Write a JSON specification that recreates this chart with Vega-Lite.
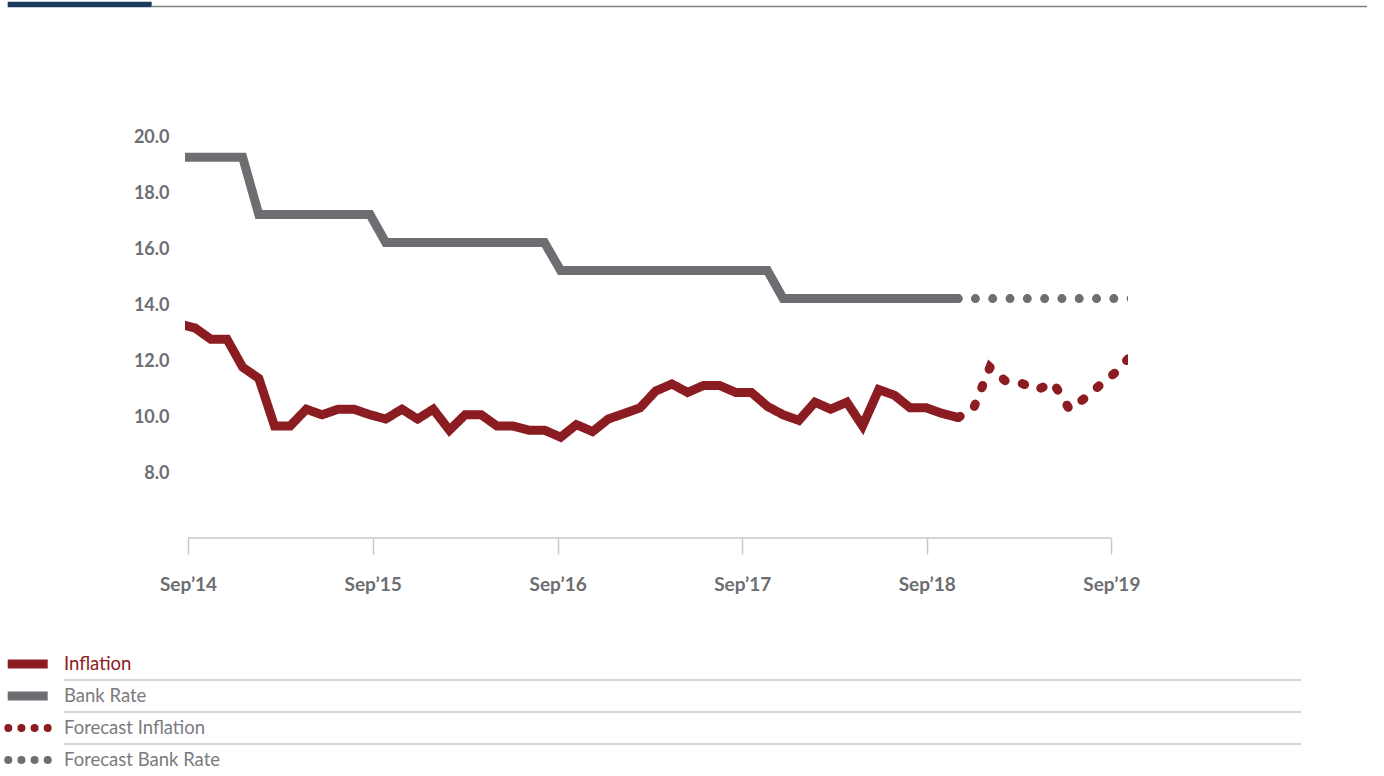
{
  "$schema": "https://vega.github.io/schema/vega-lite/v6.json",
  "padding": {"left": 3, "top": 0, "right": 0, "bottom": 0},
  "background": "white",
  "config": {"view": {"stroke": null}, "font": "Lato"},
  "columns": 1,
  "align": "none",
  "spacing": 20,
  "datasets": {
    "rates": [
      {"date": "2014-08-14", "series": "Inflation", "value": 13.35},
      {"date": "2014-09-15", "series": "Inflation", "value": 13.2},
      {"date": "2014-10-16", "series": "Inflation", "value": 12.8},
      {"date": "2014-11-17", "series": "Inflation", "value": 12.8},
      {"date": "2014-12-18", "series": "Inflation", "value": 11.8},
      {"date": "2015-01-19", "series": "Inflation", "value": 11.4},
      {"date": "2015-02-19", "series": "Inflation", "value": 9.7},
      {"date": "2015-03-22", "series": "Inflation", "value": 9.7},
      {"date": "2015-04-23", "series": "Inflation", "value": 10.3},
      {"date": "2015-05-24", "series": "Inflation", "value": 10.1},
      {"date": "2015-06-25", "series": "Inflation", "value": 10.3},
      {"date": "2015-07-26", "series": "Inflation", "value": 10.3},
      {"date": "2015-08-27", "series": "Inflation", "value": 10.1},
      {"date": "2015-09-27", "series": "Inflation", "value": 9.95},
      {"date": "2015-10-29", "series": "Inflation", "value": 10.3},
      {"date": "2015-11-29", "series": "Inflation", "value": 9.95},
      {"date": "2015-12-30", "series": "Inflation", "value": 10.3},
      {"date": "2016-01-31", "series": "Inflation", "value": 9.55},
      {"date": "2016-03-02", "series": "Inflation", "value": 10.1},
      {"date": "2016-04-03", "series": "Inflation", "value": 10.1},
      {"date": "2016-05-04", "series": "Inflation", "value": 9.7},
      {"date": "2016-06-05", "series": "Inflation", "value": 9.7},
      {"date": "2016-07-06", "series": "Inflation", "value": 9.55},
      {"date": "2016-08-06", "series": "Inflation", "value": 9.55},
      {"date": "2016-09-07", "series": "Inflation", "value": 9.3},
      {"date": "2016-10-08", "series": "Inflation", "value": 9.75},
      {"date": "2016-11-09", "series": "Inflation", "value": 9.5},
      {"date": "2016-12-10", "series": "Inflation", "value": 9.95},
      {"date": "2017-01-11", "series": "Inflation", "value": 10.15},
      {"date": "2017-02-11", "series": "Inflation", "value": 10.35},
      {"date": "2017-03-14", "series": "Inflation", "value": 10.95},
      {"date": "2017-04-15", "series": "Inflation", "value": 11.2},
      {"date": "2017-05-16", "series": "Inflation", "value": 10.9},
      {"date": "2017-06-17", "series": "Inflation", "value": 11.15},
      {"date": "2017-07-18", "series": "Inflation", "value": 11.15},
      {"date": "2017-08-19", "series": "Inflation", "value": 10.9},
      {"date": "2017-09-19", "series": "Inflation", "value": 10.9},
      {"date": "2017-10-21", "series": "Inflation", "value": 10.4},
      {"date": "2017-11-21", "series": "Inflation", "value": 10.1},
      {"date": "2017-12-22", "series": "Inflation", "value": 9.9},
      {"date": "2018-01-23", "series": "Inflation", "value": 10.55},
      {"date": "2018-02-23", "series": "Inflation", "value": 10.3},
      {"date": "2018-03-27", "series": "Inflation", "value": 10.55},
      {"date": "2018-04-27", "series": "Inflation", "value": 9.7},
      {"date": "2018-05-29", "series": "Inflation", "value": 11.0},
      {"date": "2018-06-29", "series": "Inflation", "value": 10.8},
      {"date": "2018-07-30", "series": "Inflation", "value": 10.35},
      {"date": "2018-08-31", "series": "Inflation", "value": 10.35},
      {"date": "2018-10-01", "series": "Inflation", "value": 10.15},
      {"date": "2018-11-02", "series": "Inflation", "value": 10.0},
      {"date": "2018-11-02", "series": "Forecast Inflation", "value": 10.0},
      {"date": "2018-12-03", "series": "Forecast Inflation", "value": 10.35},
      {"date": "2019-01-04", "series": "Forecast Inflation", "value": 11.8},
      {"date": "2019-02-04", "series": "Forecast Inflation", "value": 11.3},
      {"date": "2019-03-08", "series": "Forecast Inflation", "value": 11.22},
      {"date": "2019-04-08", "series": "Forecast Inflation", "value": 11.0},
      {"date": "2019-05-09", "series": "Forecast Inflation", "value": 11.25},
      {"date": "2019-06-10", "series": "Forecast Inflation", "value": 10.3},
      {"date": "2019-07-11", "series": "Forecast Inflation", "value": 10.7},
      {"date": "2019-08-12", "series": "Forecast Inflation", "value": 11.2},
      {"date": "2019-09-12", "series": "Forecast Inflation", "value": 11.65},
      {"date": "2019-10-14", "series": "Forecast Inflation", "value": 12.3},
      {"date": "2014-08-14", "series": "Bank Rate", "value": 19.3},
      {"date": "2014-12-18", "series": "Bank Rate", "value": 19.3},
      {"date": "2015-01-19", "series": "Bank Rate", "value": 17.25},
      {"date": "2015-08-27", "series": "Bank Rate", "value": 17.25},
      {"date": "2015-09-27", "series": "Bank Rate", "value": 16.25},
      {"date": "2016-08-06", "series": "Bank Rate", "value": 16.25},
      {"date": "2016-09-07", "series": "Bank Rate", "value": 15.25},
      {"date": "2017-10-21", "series": "Bank Rate", "value": 15.25},
      {"date": "2017-11-21", "series": "Bank Rate", "value": 14.25},
      {"date": "2018-11-02", "series": "Bank Rate", "value": 14.25},
      {"date": "2018-11-02", "series": "Forecast Bank Rate", "value": 14.25},
      {"date": "2019-10-14", "series": "Forecast Bank Rate", "value": 14.25}
    ],
    "legendItems": [
      {"series": "Inflation", "style": "solid"},
      {"series": "Bank Rate", "style": "solid"},
      {"series": "Forecast Inflation", "style": "dotted"},
      {"series": "Forecast Bank Rate", "style": "dotted"}
    ]
  },
  "concat": [
    {
      "width": 1182,
      "height": 105,
      "data": {"values": [{}]},
      "layer": [
        {
          "mark": {"type": "rule", "color": "#1b3a5c", "strokeWidth": 5.6, "strokeCap": "butt"},
          "encoding": {
            "x": {"datum": -177.3, "type": "quantitative", "scale": {"domain": [0, 1182], "nice": false, "zero": false}, "axis": null},
            "x2": {"datum": -33.3},
            "y": {"datum": 4.5, "type": "quantitative", "scale": {"domain": [0, 105], "reverse": true, "nice": false, "zero": false}, "axis": null}
          }
        },
        {
          "mark": {"type": "rule", "color": "#808080", "strokeWidth": 1.5, "strokeCap": "butt"},
          "encoding": {
            "x": {"datum": -33.3, "type": "quantitative"},
            "x2": {"datum": 1182},
            "y": {"datum": 6.5, "type": "quantitative"}
          }
        }
      ]
    },
    {
      "width": 943,
      "height": 413,
      "layer": [
        {
          "data": {"values": [{}]},
          "mark": {"type": "rule", "color": "#c8c8c8", "strokeWidth": 1.5},
          "encoding": {
            "x": {"datum": {"year": 2014, "month": 9, "date": 1}, "type": "temporal"},
            "x2": {"datum": {"year": 2019, "month": 9, "date": 1}},
            "y": {"datum": 5.7, "type": "quantitative"}
          }
        },
        {
          "data": {"name": "rates"},
          "mark": {"type": "line", "clip": true, "strokeWidth": 9, "strokeCap": "round", "strokeJoin": "miter", "strokeMiterLimit": 4},
          "encoding": {
            "x": {
              "field": "date", "type": "temporal",
              "scale": {"domain": [{"year": 2014, "month": 8, "date": 26}, {"year": 2019, "month": 10, "date": 4}], "nice": false},
              "axis": {
                "values": [
                  {"year": 2014, "month": 9, "date": 1},
                  {"year": 2015, "month": 9, "date": 1},
                  {"year": 2016, "month": 9, "date": 1},
                  {"year": 2017, "month": 9, "date": 1},
                  {"year": 2018, "month": 9, "date": 1},
                  {"year": 2019, "month": 9, "date": 1}
                ],
                "format": "%b’%y",
                "title": null,
                "domain": false,
                "grid": false,
                "ticks": true,
                "tickSize": 16,
                "tickColor": "#c8c8c8",
                "tickWidth": 1.5,
                "labelFont": "Lato",
                "labelFontWeight": "bold",
                "labelFontSize": 19,
                "labelColor": "#6d6e71",
                "labelPadding": 21,
                "labelFlush": false,
                "labelOverlap": false,
                "minExtent": 90,
                "maxExtent": 200
              }
            },
            "y": {
              "field": "value", "type": "quantitative",
              "scale": {"domain": [5.7, 20.45], "nice": false, "zero": false},
              "axis": {
                "values": [8, 10, 12, 14, 16, 18, 20],
                "format": ".1f",
                "title": null,
                "domain": false,
                "grid": false,
                "ticks": false,
                "tickSize": 0,
                "labelFont": "Lato",
                "labelFontWeight": "bold",
                "labelFontSize": 18,
                "labelColor": "#6d6e71",
                "labelPadding": 16,
                "minExtent": 181,
                "maxExtent": 300
              }
            },
            "color": {
              "field": "series", "type": "nominal",
              "scale": {"domain": ["Inflation", "Bank Rate", "Forecast Inflation", "Forecast Bank Rate"], "range": ["#8b1c21", "#6d6e71", "#8b1c21", "#6d6e71"]},
              "legend": null
            },
            "strokeDash": {
              "field": "series", "type": "nominal",
              "scale": {"domain": ["Inflation", "Bank Rate", "Forecast Inflation", "Forecast Bank Rate"], "range": [[1, 0], [1, 0], [2.5, 17.5], [0, 17.3]]},
              "legend": null
            }
          }
        }
      ]
    },
    {
      "width": 1116,
      "height": 128,
      "data": {"name": "legendItems"},
      "encoding": {
        "y": {
          "field": "series", "type": "nominal",
          "scale": {"type": "band", "domain": ["Inflation", "Bank Rate", "Forecast Inflation", "Forecast Bank Rate"], "paddingInner": 0, "paddingOuter": 0},
          "axis": null
        }
      },
      "layer": [
        {
          "transform": [{"filter": "datum.series !== 'Forecast Bank Rate'"}],
          "mark": {"type": "rule", "color": "#c8c8c8", "strokeWidth": 1.5},
          "encoding": {
            "x": {"datum": -121, "type": "quantitative", "scale": {"domain": [0, 1116], "nice": false, "zero": false}, "axis": null},
            "x2": {"datum": 1116},
            "y": {"field": "series", "type": "nominal", "bandPosition": 1}
          }
        },
        {
          "transform": [{"filter": "datum.style === 'solid'"}],
          "mark": {"type": "rule", "strokeWidth": 9, "strokeCap": "butt"},
          "encoding": {
            "x": {"datum": -177.3, "type": "quantitative"},
            "x2": {"datum": -137.3},
            "y": {"field": "series", "type": "nominal", "bandPosition": 0.5},
            "stroke": {
              "field": "series", "type": "nominal",
              "scale": {"domain": ["Inflation", "Bank Rate", "Forecast Inflation", "Forecast Bank Rate"], "range": ["#8b1c21", "#6d6e71", "#8b1c21", "#6d6e71"]},
              "legend": null
            }
          }
        },
        {
          "transform": [{"filter": "datum.style === 'dotted'"}],
          "mark": {"type": "rule", "strokeWidth": 8, "strokeCap": "round", "strokeDash": [0, 13.13]},
          "encoding": {
            "x": {"datum": -176.7, "type": "quantitative"},
            "x2": {"datum": -137.25},
            "y": {"field": "series", "type": "nominal", "bandPosition": 0.5},
            "stroke": {"field": "series", "type": "nominal", "legend": null}
          }
        },
        {
          "mark": {"type": "text", "align": "left", "baseline": "middle", "font": "Lato", "fontSize": 18.5},
          "encoding": {
            "x": {"datum": -121, "type": "quantitative"},
            "y": {"field": "series", "type": "nominal", "bandPosition": 0.5},
            "text": {"field": "series", "type": "nominal"},
            "fill": {
              "field": "series", "type": "nominal",
              "scale": {"domain": ["Inflation", "Bank Rate", "Forecast Inflation", "Forecast Bank Rate"], "range": ["#8b1c21", "#7a7b7e", "#7a7b7e", "#7a7b7e"]},
              "legend": null
            }
          }
        }
      ]
    }
  ]
}
